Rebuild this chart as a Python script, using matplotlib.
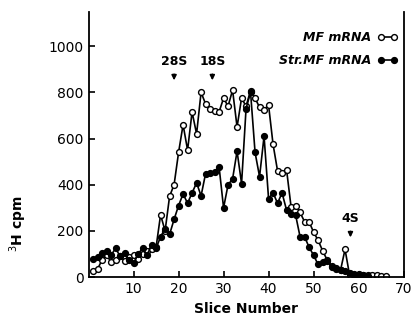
import matplotlib
matplotlib.use("Agg")
import matplotlib.pyplot as plt

# slice numbers and counts
slices_mf = list(range(1, 67))
cpm_mf = [25, 35, 75, 95, 65, 75, 90, 70, 85, 95,
          80, 100, 115, 120, 130, 270, 200, 350, 400, 540,
          660, 550, 715, 620, 800, 750, 730, 720, 715, 775,
          740, 810, 650, 775, 740, 808, 775, 735, 725, 745,
          575, 460, 450, 465, 305, 310, 280, 240, 240, 195,
          160, 115, 75, 50, 38, 30, 120, 10, 10, 12,
          10, 10, 8, 8, 6, 5]

slices_str = list(range(1, 63))
cpm_str = [80, 85, 105, 115, 95, 125, 90, 105, 75, 60,
           100, 125, 95, 140, 125, 175, 210, 185, 250, 310,
           360, 320, 365, 408, 352, 448, 452, 456, 478, 300,
           400, 425, 545, 405, 730, 800, 540, 435, 610, 340,
           365, 320, 365, 290, 275, 270, 175, 175, 130, 95,
           55, 65, 70, 45, 35, 30, 25, 20, 15, 10,
           8, 5]

# sedimentation markers: label, slice, height of text
markers = ["28S", "18S", "4S"]
marker_x = [19, 27.5, 58.2]
marker_y = [905, 905, 225]

fig = plt.figure(figsize=(4.16, 3.2), dpi=100)
ax = fig.add_axes([0.213, 0.134, 0.757, 0.83])

ax.plot(slices_mf, cpm_mf, color="black", lw=1.2, marker="o", ms=4.2,
        mfc="white", mec="black", mew=1.0, label="MF mRNA")
ax.plot(slices_str, cpm_str, color="black", lw=1.2, marker="o", ms=4.2,
        mfc="black", mec="black", label="Str.MF mRNA")

for lab, x, y in zip(markers, marker_x, marker_y):
    ax.text(x, y, lab, ha="center", va="bottom", fontsize=9, fontweight="bold")
    ax.annotate("", xy=(x, y - 65), xytext=(x, y - 15),
                arrowprops=dict(arrowstyle="-|>", color="black", lw=1.2,
                                mutation_scale=7))

ax.set_xlim(0, 70)
ax.set_ylim(0, 1150)
ax.set_xticks([10, 20, 30, 40, 50, 60, 70])
ax.set_yticks([0, 200, 400, 600, 800, 1000])
ax.tick_params(direction="in", length=4, labelsize=10, width=1.2)
ax.spines["top"].set_visible(False)
for s in ["left", "right", "bottom"]:
    ax.spines[s].set_linewidth(1.3)

ax.set_xlabel("Slice Number", fontsize=10, fontweight="bold")
ax.set_ylabel("$^3$H cpm", fontsize=10, fontweight="bold")
ax.yaxis.set_label_coords(-0.19, 0.2)

leg = ax.legend(loc="upper right", bbox_to_anchor=(1.0, 0.95), frameon=False,
                markerfirst=False, numpoints=2, handlelength=1.6,
                prop={"style": "italic", "weight": "bold", "size": 9},
                borderaxespad=0.1, labelspacing=0.8, handletextpad=0.5)

fig.savefig("out.png", dpi=100)
